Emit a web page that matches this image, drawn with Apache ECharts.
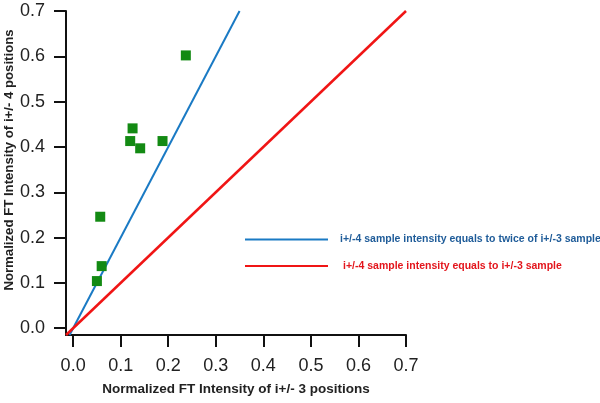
<!DOCTYPE html>
<html><head><meta charset="utf-8">
<script src="https://cdn.jsdelivr.net/npm/echarts@6/dist/echarts.min.js"></script>
<style>html,body{margin:0;padding:0;background:#fff}#c{width:600px;height:403px}</style>
</head><body><div id="c"></div>
<script>
// Data
const sampleX = [0.237, 0.125, 0.120, 0.141, 0.188, 0.057, 0.060, 0.050];
const sampleY = [0.602, 0.441, 0.413, 0.397, 0.413, 0.246, 0.137, 0.104];
const twiceLineX = [-0.0075, 0.35];
const twiceLineY = [-0.015, 0.70];
const equalLineX = [-0.015, 0.70];
const equalLineY = [-0.015, 0.70];
const tickValues = [0, 0.1, 0.2, 0.3, 0.4, 0.5, 0.6, 0.7];
const tickLabels = ['0.0','0.1','0.2','0.3','0.4','0.5','0.6','0.7'];
const legendNames = ['i+/-4 sample intensity equals to twice of i+/-3 sample', 'i+/-4 sample intensity equals to i+/-3 sample'];
const xName = 'Normalized FT Intensity of i+/- 3 positions';
const yName = 'Normalized FT Intensity of i+/- 4 positions';

const zip = (a, b) => a.map((v, i) => [v, b[i]]);
const fmt = v => { const i = tickValues.findIndex(t => Math.abs(t - v) < 1e-9); return i >= 0 ? tickLabels[i] : ''; };

const font = 'Arial, "Liberation Sans", Helvetica, sans-serif';
const axisCommon = {
  type: 'value', min: -0.015, max: 0.7,
  splitLine: { show: false },
  axisLine: { show: true, onZero: false, lineStyle: { color: '#111', width: 2 } },
  axisTick: { show: true, inside: false, length: 12, customValues: tickValues, lineStyle: { color: '#111', width: 2 } },
  nameLocation: 'middle',
  nameMoveOverlap: false
};

const chart = echarts.init(document.getElementById('c'), null, { renderer: 'canvas' });
chart.setOption({
  animation: false,
  backgroundColor: '#fff',
  grid: { left: 66, right: 194, top: 11, bottom: 68, containLabel: false, outerBoundsMode: 'none' },
  xAxis: Object.assign({}, axisCommon, {
    name: xName, nameGap: 47,
    nameTextStyle: { fontFamily: font, fontWeight: 'bold', fontSize: 13.5, color: '#222' },
    axisLabel: { customValues: tickValues, formatter: fmt, margin: 22, fontFamily: font, fontSize: 18, color: '#222' }
  }),
  yAxis: Object.assign({}, axisCommon, {
    name: yName, nameGap: 50,
    nameTextStyle: { fontFamily: font, fontWeight: 'bold', fontSize: 13.2, color: '#222', padding: [0, 0, 0, 26] },
    axisLabel: { customValues: tickValues, formatter: fmt, margin: 21, fontFamily: font, fontSize: 18, color: '#222' }
  }),
  legend: {
    orient: 'vertical', left: 245, top: 234, padding: 0, icon: 'rect', itemWidth: 83, itemHeight: 2, itemGap: 15.5,
    textStyle: { fontFamily: font, fontWeight: 'bold', fontSize: 10.5 },
    data: [
      { name: legendNames[0], textStyle: { color: '#1f5c99', padding: [0, 0, 0, 7] } },
      { name: legendNames[1], textStyle: { color: '#e3151c', padding: [0, 0, 0, 10] } }
    ]
  },
  series: [
    { name: legendNames[0], type: 'line', symbol: 'none', data: zip(twiceLineX, twiceLineY),
      lineStyle: { color: '#1a7ac4', width: 2 }, itemStyle: { color: '#1a7ac4' }, z: 2 },
    { name: legendNames[1], type: 'line', symbol: 'none', data: zip(equalLineX, equalLineY),
      lineStyle: { color: '#f01515', width: 2.5 }, itemStyle: { color: '#f01515' }, z: 2 },
    { name: 'samples', type: 'scatter', symbol: 'rect', symbolSize: 10, data: zip(sampleX, sampleY),
      itemStyle: { color: '#138a13', opacity: 1 }, z: 3 }
  ]
});
</script></body></html>
